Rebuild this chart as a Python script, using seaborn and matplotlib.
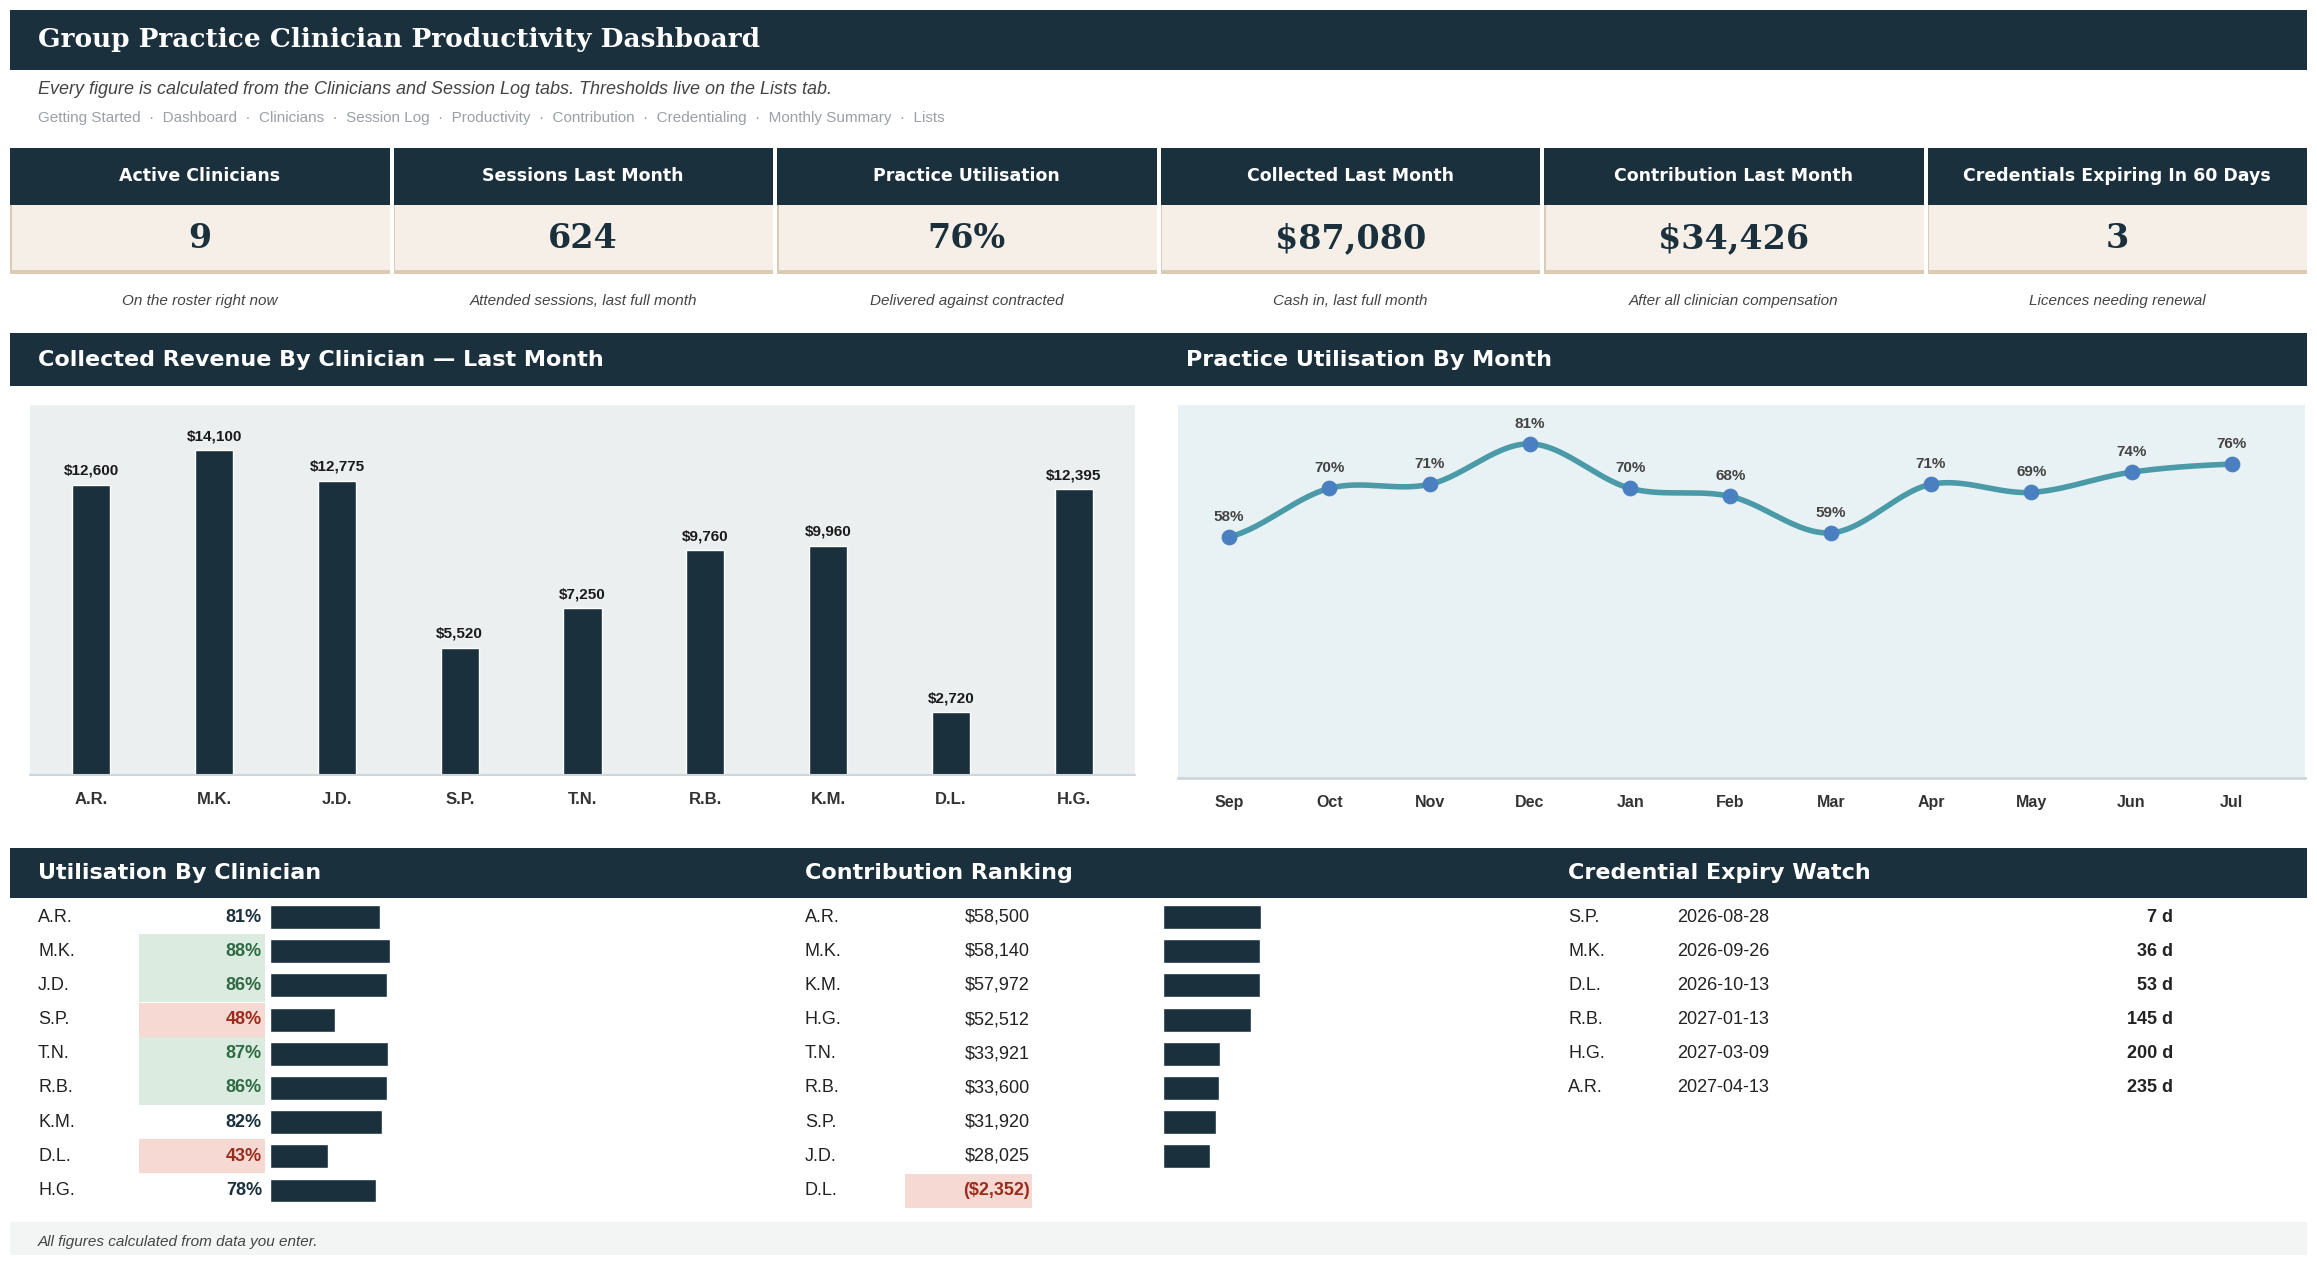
import numpy as np
import pandas as pd
import matplotlib
matplotlib.use("Agg")
import matplotlib.pyplot as plt
from matplotlib.patches import Rectangle
import seaborn as sns

# ---- data ----
kpi_titles = ["Active Clinicians", "Sessions Last Month", "Practice Utilisation",
              "Collected Last Month", "Contribution Last Month", "Credentials Expiring In 60 Days"]
kpi_values = ["9", "624", "76%", "$87,080", "$34,426", "3"]
kpi_notes = ["On the roster right now", "Attended sessions, last full month", "Delivered against contracted",
             "Cash in, last full month", "After all clinician compensation", "Licences needing renewal"]

clinicians = ["A.R.", "M.K.", "J.D.", "S.P.", "T.N.", "R.B.", "K.M.", "D.L.", "H.G."]
revenue = [12600, 14100, 12775, 5520, 7250, 9760, 9960, 2720, 12395]

months = ["Sep", "Oct", "Nov", "Dec", "Jan", "Feb", "Mar", "Apr", "May", "Jun", "Jul"]
util_month = [58, 70, 71, 81, 70, 68, 59, 71, 69, 74, 76]

util_clin = [81, 88, 86, 48, 87, 86, 82, 43, 78]

contrib_names = ["A.R.", "M.K.", "K.M.", "H.G.", "T.N.", "R.B.", "S.P.", "J.D.", "D.L."]
contrib_values = [58500, 58140, 57972, 52512, 33921, 33600, 31920, 28025, -2352]

cred_names = ["S.P.", "M.K.", "D.L.", "R.B.", "H.G.", "A.R."]
cred_dates = ["2026-08-28", "2026-09-26", "2026-10-13", "2027-01-13", "2027-03-09", "2027-04-13"]
cred_days = [7, 36, 53, 145, 200, 235]

nav = ["Getting Started", "Dashboard", "Clinicians", "Session Log", "Productivity",
       "Contribution", "Credentialing", "Monthly Summary", "Lists"]

# ---- style ----
sns.set_theme(style="white")
plt.rcParams["font.family"] = ["Liberation Sans", "DejaVu Sans"]
NAVY = "#1a303d"
GREEN_BG, GREEN_TX = "#dcebe0", "#2e6b45"
RED_BG, RED_TX = "#f7d9d3", "#9b2c1c"
HEAD = "DejaVu Sans"
SERIF = "DejaVu Serif"

W, H = 2317, 1262
fig = plt.figure(figsize=(W / 100, H / 100), dpi=100)
bg = fig.add_axes([0, 0, 1, 1])
bg.set_xlim(0, W)
bg.set_ylim(H, 0)
bg.axis("off")


def px_axes(x0, y0, x1, y1):
    return fig.add_axes([x0 / W, 1 - y1 / H, (x1 - x0) / W, (y1 - y0) / H])


def box(x0, y0, x1, y1, color, **kw):
    bg.add_patch(Rectangle((x0, y0), x1 - x0, y1 - y0, facecolor=color, edgecolor="none", **kw))


# header
box(10, 10, 2307, 70, NAVY)
bg.text(38, 40, "Group Practice Clinician Productivity Dashboard", color="white",
        fontsize=19, fontweight="bold", family=SERIF, va="center")
bg.text(38, 90, "Every figure is calculated from the Clinicians and Session Log tabs. Thresholds live on the Lists tab.",
        fontsize=13, style="italic", color="#444444", va="center")
bg.text(38, 118, "  ·  ".join(nav), fontsize=11, color="#9aa0a6", va="center")

# KPI cards
card_w = (2297 - 5 * 4) / 6
for i in range(6):
    x0 = 10 + i * (card_w + 4)
    x1 = x0 + card_w
    box(x0, 148, x1, 205, NAVY)
    box(x0, 205, x1, 272, "#f5efe8")
    box(x0, 270, x1, 274, "#dccbb4")
    box(x0, 205, x0 + 1.5, 272, "#dccbb4")
    cx = (x0 + x1) / 2
    bg.text(cx, 176, kpi_titles[i], color="white", fontsize=12.5, fontweight="bold", family=HEAD,
            ha="center", va="center")
    bg.text(cx, 239, kpi_values[i], color=NAVY, fontsize=24, fontweight="bold", family=SERIF,
            ha="center", va="center")
    bg.text(cx, 301, kpi_notes[i], color="#444444", fontsize=11, style="italic", ha="center", va="center")

# section headers
box(10, 333, 2307, 386, NAVY)
bg.text(38, 360, "Collected Revenue By Clinician — Last Month", color="white", fontsize=16,
        fontweight="bold", family=HEAD, va="center")
bg.text(1186, 360, "Practice Utilisation By Month", color="white", fontsize=16,
        fontweight="bold", family=HEAD, va="center")

# bar chart
ax1 = px_axes(30, 405, 1135, 775)
ax1.set_facecolor("#ebeff0")
rev_df = pd.DataFrame({"clinician": clinicians, "revenue": revenue})
sns.barplot(data=rev_df, x="clinician", y="revenue", color=NAVY, width=0.31, saturation=1, ax=ax1)
ax1.set_ylim(0, 16060)
ax1.set_xlim(-0.5, 8.5)
for i, v in enumerate(revenue):
    ax1.text(i, v + 300, f"${v:,}", ha="center", va="bottom", fontsize=11, fontweight="bold", color="#1a1a1a")
ax1.set_xlabel("")
ax1.set_ylabel("")
ax1.set_yticks([])
ax1.tick_params(axis="x", length=0, pad=12, labelsize=12)
for lbl in ax1.get_xticklabels():
    lbl.set_fontweight("bold")
    lbl.set_color("#333333")
for s in ["top", "left", "right"]:
    ax1.spines[s].set_visible(False)
ax1.spines["bottom"].set_color("#cfd6d9")
ax1.spines["bottom"].set_linewidth(1.5)

# line chart
ax2 = px_axes(1178, 405, 2305, 778)
ax2.set_facecolor("#e8f1f4")
xs = np.arange(len(months))
ys = np.array(util_month, dtype=float)
# smooth (Catmull-Rom) path through the monthly points
p = np.concatenate([[ys[0]], ys, [ys[-1]]])
sx, sy = [], []
for k in range(len(ys) - 1):
    t = np.linspace(0, 1, 30)
    p0, p1, p2, p3 = p[k], p[k + 1], p[k + 2], p[k + 3]
    yy = 0.5 * ((2 * p1) + (-p0 + p2) * t + (2 * p0 - 5 * p1 + 4 * p2 - p3) * t ** 2
                + (-p0 + 3 * p1 - 3 * p2 + p3) * t ** 3)
    sx.extend(k + t)
    sy.extend(yy)
ax2.plot(sx, sy, color="#4a9aa8", lw=4, solid_capstyle="round")
sns.scatterplot(x=xs, y=ys, color="#4a7fc1", s=110, edgecolor="#4a7fc1", zorder=3, ax=ax2)
for x, v in zip(xs, util_month):
    ax2.text(x, v + 3.2, f"{v}%", ha="center", va="bottom", fontsize=11, fontweight="bold", color="#444444")
ax2.set_xlim(-0.51, 10.73)
ax2.set_ylim(-1.6, 90.6)
ax2.set_xticks(xs)
ax2.set_xticklabels(months)
ax2.set_yticks([])
ax2.tick_params(axis="x", length=0, pad=12, labelsize=11.5)
for lbl in ax2.get_xticklabels():
    lbl.set_fontweight("bold")
    lbl.set_color("#333333")
for s in ["top", "left", "right"]:
    ax2.spines[s].set_visible(False)
ax2.spines["bottom"].set_color("#cfd6d9")
ax2.spines["bottom"].set_linewidth(2)

# bottom section headers
box(10, 848, 2307, 898, NAVY)
for x, t in [(38, "Utilisation By Clinician"), (805, "Contribution Ranking"), (1568, "Credential Expiry Watch")]:
    bg.text(x, 873, t, color="white", fontsize=16, fontweight="bold", family=HEAD, va="center")

row_y = [917 + 34.2 * i for i in range(9)]
TXT = 13

# utilisation by clinician
for i, (n, v) in enumerate(zip(clinicians, util_clin)):
    y = row_y[i]
    if v >= 85:
        box(139, y - 17, 265, y + 17, GREEN_BG)
        c = GREEN_TX
    elif v < 50:
        box(139, y - 17, 265, y + 17, RED_BG)
        c = RED_TX
    else:
        c = NAVY
    bg.text(38, y, n, fontsize=TXT, color="#222222", va="center")
    bg.text(262, y, f"{v}%", fontsize=TXT, fontweight="bold", color=c, va="center", ha="right")
ax3 = px_axes(270, row_y[0] - 17, 406, row_y[-1] + 17)
sns.barplot(x=util_clin, y=list(range(9)), orient="h", color=NAVY, saturation=1, width=0.7, ax=ax3)
ax3.set_xlim(0, 100)
ax3.axis("off")

# contribution ranking
for i, (n, v) in enumerate(zip(contrib_names, contrib_values)):
    y = row_y[i]
    s = f"${v:,}" if v >= 0 else f"(${-v:,})"
    if v < 0:
        box(905, y - 17, 1032, y + 17, RED_BG)
    bg.text(805, y, n, fontsize=TXT, color="#222222", va="center")
    bg.text(1030, y, s, fontsize=TXT, color=RED_TX if v < 0 else "#222222",
            fontweight="bold" if v < 0 else "normal", va="center", ha="right")
ax4 = px_axes(1163, row_y[0] - 17, 1300, row_y[-1] + 17)
sns.barplot(x=[max(v, 0) for v in contrib_values], y=list(range(9)), orient="h", color=NAVY,
            saturation=1, width=0.7, ax=ax4)
ax4.set_xlim(0, 58500 * 137 / 98)
ax4.axis("off")

# credential expiry
for i, (n, d, dd) in enumerate(zip(cred_names, cred_dates, cred_days)):
    y = row_y[i]
    bg.text(1568, y, n, fontsize=TXT, color="#222222", va="center")
    bg.text(1677, y, d, fontsize=TXT, color="#222222", va="center")
    bg.text(2173, y, f"{dd} d", fontsize=TXT, fontweight="bold", color="#222222", va="center", ha="right")

# footer
box(10, 1222, 2307, 1255, "#f3f4f4")
bg.text(38, 1242, "All figures calculated from data you enter.", fontsize=11, style="italic",
        color="#444444", va="center")

fig.savefig("out.png", dpi=100)
